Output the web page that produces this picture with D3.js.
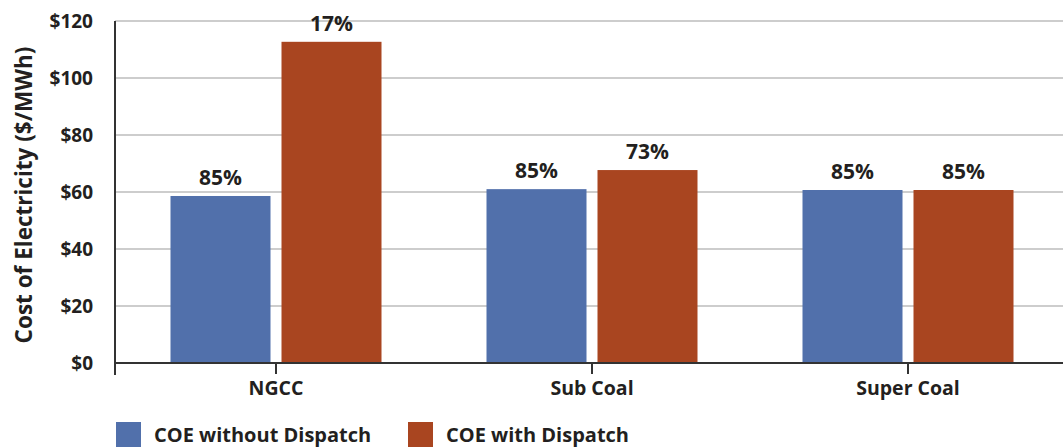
<!DOCTYPE html>
<html><head><meta charset="utf-8">
<script src="https://cdn.jsdelivr.net/npm/d3@7"></script>
<style>
html,body{margin:0;padding:0;background:#fff;}
svg{display:block;font-family:"Open Sans",sans-serif;font-weight:700;}
</style></head>
<body>
<svg id="c" width="1063" height="447"></svg>
<script>
const categories = ["NGCC", "Sub Coal", "Super Coal"];
const seriesNames = ["COE without Dispatch", "COE with Dispatch"];
const withoutDispatch = [58.6, 61.0, 60.7];
const withDispatch = [112.7, 67.7, 60.7];
const withoutLabels = ["85%", "85%", "85%"];
const withLabels = ["17%", "73%", "85%"];
const yTicks = [0, 20, 40, 60, 80, 100, 120];
const colors = ["#5170ab", "#a94520"];

const svg = d3.select("#c");
const W = 1063;
const textColor = "#231f20";
const axisX = 115;

const y = d3.scaleLinear().domain([0, 120]).range([363, 21]);
const x0 = d3.scaleBand().domain(categories).range([118, 1066]).paddingInner(0).paddingOuter(0);
const groupW = 211;
const x1 = d3.scaleBand().domain(seriesNames).range([0, groupW]).paddingInner(11/111).paddingOuter(0);
const color = d3.scaleOrdinal().domain(seriesNames).range(colors);

// gridlines
svg.append("g").selectAll("line").data(yTicks.filter(d => d > 0)).join("line")
  .attr("x1", axisX).attr("x2", W)
  .attr("y1", d => y(d)).attr("y2", d => y(d))
  .attr("stroke", "#bcbcbc").attr("stroke-width", 1.5);

// data
const data = categories.map((c, i) => ({
  cat: c,
  vals: [
    {s: seriesNames[0], v: withoutDispatch[i], lab: withoutLabels[i]},
    {s: seriesNames[1], v: withDispatch[i], lab: withLabels[i]}
  ]
}));

const groups = svg.append("g").selectAll("g").data(data).join("g")
  .attr("transform", d => `translate(${x0(d.cat) + (x0.bandwidth() - groupW) / 2},0)`);

groups.selectAll("rect").data(d => d.vals).join("rect")
  .attr("x", d => x1(d.s)).attr("width", x1.bandwidth())
  .attr("y", d => y(d.v)).attr("height", d => y(0) - y(d.v))
  .attr("fill", d => color(d.s));

groups.selectAll("text").data(d => d.vals).join("text")
  .attr("x", d => x1(d.s) + x1.bandwidth() / 2)
  .attr("y", d => y(d.v) - 11)
  .attr("text-anchor", "middle")
  .attr("font-size", 21).attr("fill", textColor)
  .text(d => d.lab);

// y axis
const yAxis = d3.axisLeft(y).tickValues(yTicks).tickSize(0).tickPadding(22)
  .tickFormat(d => "$" + d);
const gy = svg.append("g").attr("transform", `translate(${axisX},0)`).call(yAxis);
gy.select(".domain").remove();
gy.selectAll("text").attr("font-size", 19).attr("fill", textColor)
  .attr("font-family", "Open Sans").attr("font-weight", 700);
svg.append("line").attr("x1", axisX).attr("x2", axisX).attr("y1", y(120)).attr("y2", 375)
  .attr("stroke", "#333").attr("stroke-width", 2);

// x axis
const xAxis = d3.axisBottom(x0).tickSize(11).tickPadding(7);
const gx = svg.append("g").attr("transform", `translate(0,${y(0)})`).call(xAxis);
gx.select(".domain").remove();
gx.selectAll(".tick line").attr("stroke", "#333").attr("stroke-width", 2);
gx.selectAll("text").attr("font-size", 19.5).attr("fill", textColor)
  .attr("font-family", "Open Sans").attr("font-weight", 700);
svg.append("line").attr("x1", axisX - 1).attr("x2", W).attr("y1", y(0)).attr("y2", y(0))
  .attr("stroke", "#333").attr("stroke-width", 2);

// y title
svg.append("text")
  .attr("transform", `translate(32,195) rotate(-90)`)
  .attr("text-anchor", "middle").attr("font-size", 22.5).attr("fill", textColor)
  .text("Cost of Electricity ($/MWh)");

// legend
const legendX = [116, 408];
const leg = svg.append("g").selectAll("g").data(seriesNames).join("g")
  .attr("transform", (d, i) => `translate(${legendX[i]},422)`);
leg.append("rect").attr("width", 25).attr("height", 25).attr("fill", d => color(d));
leg.append("text").attr("x", 38).attr("y", 20).attr("font-size", 20).attr("fill", textColor)
  .text(d => d);
</script>
</body></html>
